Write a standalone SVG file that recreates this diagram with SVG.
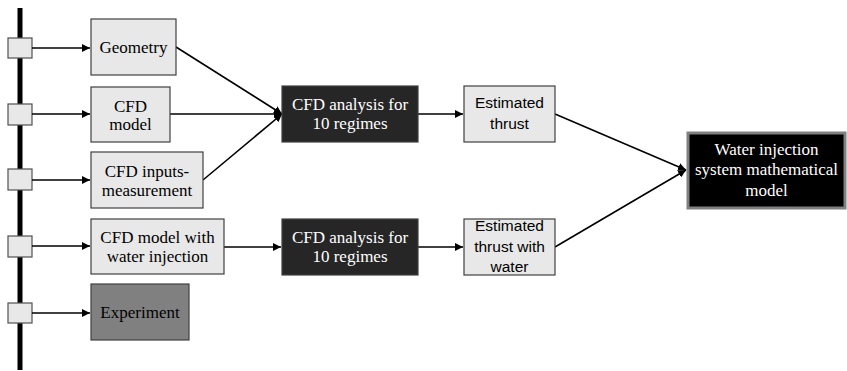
<svg xmlns="http://www.w3.org/2000/svg" width="847" height="371" viewBox="0 0 847 371">
<style>
.lt{fill:#e8e8e8;stroke:#404040;stroke-width:1.2}
.dk{fill:#262626;stroke:#404040;stroke-width:1.2}
.sq{fill:#e8e8e8;stroke:#505050;stroke-width:1.2}
.tx{font-family:"Liberation Serif","Times New Roman",serif;font-size:17px;text-anchor:middle;fill:#000}
.tw{font-family:"Liberation Serif","Times New Roman",serif;font-size:17px;text-anchor:middle;fill:#fff}
.ts{font-family:"Liberation Sans",Arial,sans-serif;font-size:15.5px;text-anchor:middle;fill:#000}
.cn{stroke:#000;stroke-width:1.6;fill:none;marker-end:url(#ah)}
</style>
<defs>
<marker id="ah" viewBox="0 0 10 10" refX="10" refY="5" markerWidth="5" markerHeight="5" orient="auto" markerUnits="strokeWidth">
<path d="M0,0 L10,5 L0,10 z" fill="#000"/>
</marker>
</defs>
<rect width="847" height="371" fill="#fff"/>
<g id="timeline">
<rect x="17.5" y="8" width="5" height="362" fill="#000"/>
<rect class="sq" x="8" y="38" width="24" height="20"/>
<rect class="sq" x="8" y="104" width="24" height="21"/>
<rect class="sq" x="8" y="169" width="24" height="21"/>
<rect class="sq" x="8" y="236" width="24" height="21"/>
<rect class="sq" x="8" y="303" width="24" height="20"/>
</g>
<g id="connectors">
<line class="cn" x1="32" y1="48" x2="90" y2="48"/>
<line class="cn" x1="32" y1="114" x2="90" y2="114"/>
<line class="cn" x1="32" y1="180" x2="90" y2="180"/>
<line class="cn" x1="32" y1="246" x2="90" y2="246"/>
<line class="cn" x1="32" y1="313" x2="90" y2="313"/>
<line class="cn" x1="176" y1="47" x2="282" y2="114"/>
<line class="cn" x1="170" y1="114" x2="282" y2="114"/>
<line class="cn" x1="203" y1="180" x2="282" y2="114"/>
<line class="cn" x1="418" y1="114" x2="463" y2="114"/>
<line class="cn" x1="224" y1="247" x2="281" y2="247"/>
<line class="cn" x1="418" y1="247" x2="463" y2="247"/>
<line class="cn" x1="555" y1="114" x2="686" y2="170"/>
<line class="cn" x1="555" y1="247" x2="686" y2="170"/>
</g>
<g id="geometry">
<rect class="lt" x="91" y="19" width="85" height="56"/>
<text class="tx" x="133.5" y="53">Geometry</text>
</g>
<g id="cfd-model">
<rect class="lt" x="91" y="87" width="79" height="55"/>
<text class="tx" x="130.5" y="112">CFD</text>
<text class="tx" x="130.5" y="130">model</text>
</g>
<g id="cfd-inputs">
<rect class="lt" x="91" y="152" width="112" height="56"/>
<text class="tx" x="147" y="177">CFD inputs-</text>
<text class="tx" x="147" y="196">measurement</text>
</g>
<g id="cfd-model-water">
<rect class="lt" x="91" y="219" width="133" height="55"/>
<text class="tx" x="157.5" y="243">CFD model with</text>
<text class="tx" x="157.5" y="262">water injection</text>
</g>
<g id="experiment">
<rect x="91" y="284" width="98" height="56" fill="#808080" stroke="#404040" stroke-width="1.2"/>
<text class="tx" x="140" y="318">Experiment</text>
</g>
<g id="cfd-analysis-1">
<rect class="dk" x="282" y="86" width="136" height="56"/>
<text class="tw" x="350" y="110">CFD analysis for</text>
<text class="tw" x="350" y="129">10 regimes</text>
</g>
<g id="cfd-analysis-2">
<rect class="dk" x="282" y="219" width="136" height="56"/>
<text class="tw" x="350" y="243">CFD analysis for</text>
<text class="tw" x="350" y="262">10 regimes</text>
</g>
<g id="estimated-thrust">
<rect class="lt" x="464" y="86" width="91" height="56"/>
<text class="ts" x="509.5" y="108">Estimated</text>
<text class="ts" x="509.5" y="129">thrust</text>
</g>
<g id="estimated-thrust-water">
<rect class="lt" x="464" y="219" width="91" height="56"/>
<text class="ts" x="509.5" y="231">Estimated</text>
<text class="ts" x="509.5" y="252">thrust with</text>
<text class="ts" x="509.5" y="272">water</text>
</g>
<g id="water-injection-model">
<rect x="688" y="133" width="157" height="75" fill="#000" stroke="#808080" stroke-width="3"/>
<text class="tw" x="766.5" y="155">Water injection</text>
<text class="tw" x="766.5" y="175">system mathematical</text>
<text class="tw" x="766.5" y="196">model</text>
</g>
</svg>
